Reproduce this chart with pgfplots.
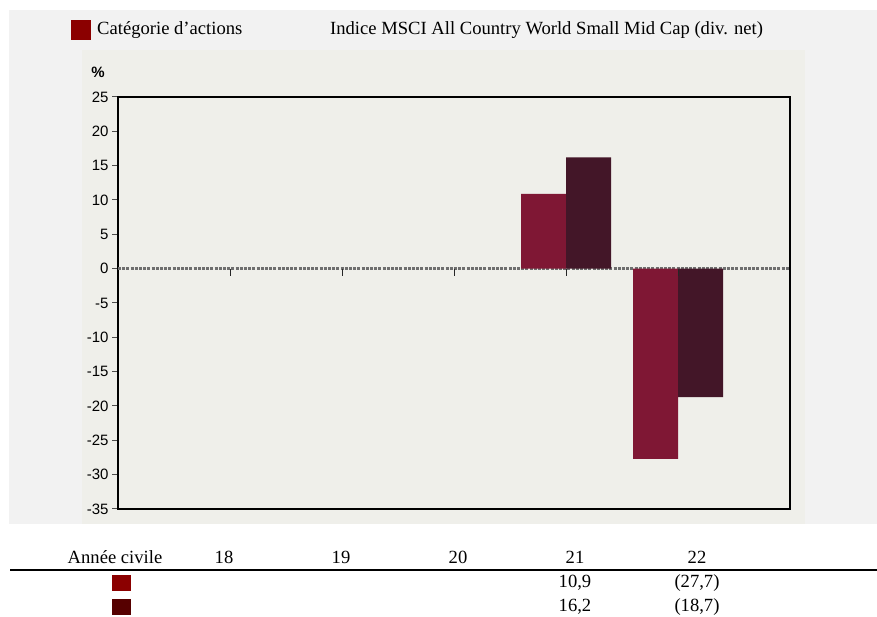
\documentclass[border=0pt]{standalone}
\usepackage{pgfplots}
\pgfplotsset{compat=1.18}
\usepackage{fontspec}
\setmainfont{Liberation Serif}
\setsansfont{Liberation Sans}

\definecolor{outerbg}{HTML}{F2F2F2}
\definecolor{innerbg}{HTML}{EFEFEA}
\definecolor{catbar}{HTML}{7F1734}
\definecolor{idxbar}{HTML}{431628}
\definecolor{keyA}{HTML}{8B0000}
\definecolor{keyB}{HTML}{560000}
\definecolor{zeroline}{HTML}{6E6E6E}

\newcommand{\serif}{\rmfamily\fontsize{18.6}{21}\selectfont}
\newcommand{\tickfont}{\sffamily\fontsize{15}{18}\selectfont}

\begin{document}
\begin{tikzpicture}[x=1pt, y=1pt]
    \useasboundingbox (0,0) rectangle (877,617);
    % panels
    \fill[outerbg] (9,93) rectangle (877,607);
    \fill[innerbg] (82,93) rectangle (805,567);

    % legend
    \fill[keyA] (71,577) rectangle (91,597);
    \node[anchor=west, inner sep=0pt, font=\serif] at (97,587) {Catégorie d’actions};
    \node[anchor=west, inner sep=0pt, font=\serif] at (330,587) {Indice MSCI All Country World Small Mid Cap (div. net)};

    % unit
    \node[font=\tickfont\bfseries, inner sep=0pt] at (98,545) {\%};

    \begin{axis}[
        at           = {(118pt,108pt)},
        anchor       = south west,
        scale only axis,
        width        = 672pt,
        height       = 412pt,
        % Axes
        xmin = 0,
        xmax = 6,
        ymin = -35,
        ymax = 25,
        xtick = \empty,
        ytick = {-35,-30,...,25},
        yticklabels = {-35,-30,-25,-20,-15,-10,-5,0,5,10,15,20,25},
        yticklabel style = {font=\tickfont},
        ytick pos         = left,
        tick align        = outside,
        major tick length = 6pt,
        ytick style       = {gray!60!black, line width=1pt},
        axis line style   = {black, line width=1.6pt},
        % Bars
        ybar      = 0pt,
        bar width = 45pt,
    ]

        % zero line
        \draw[zeroline, line width=2.4pt, dash pattern=on 3pt off 1.2pt]
            (axis cs:0,0) -- (axis cs:6,0);

        % Catégorie d'actions
        \addplot[fill=catbar, draw=none] coordinates {
            (4,  10.9)
            (5, -27.7)
        };

        % Indice MSCI ACWI SMID
        \addplot[fill=idxbar, draw=none] coordinates {
            (4,  16.2)
            (5, -18.7)
        };

        % category ticks on the zero line
        \foreach \k in {1,...,5} {
            \edef\temp{\noexpand\draw[gray!30!black, line width=1pt] (axis cs:\k,0) -- (axis cs:\k,-1);}
            \temp
        }
    \end{axis}

    % table below the chart
    \node[font=\serif, inner sep=0pt] at (115,60) {Année civile};
    \foreach \xx/\yr in {224/18, 341/19, 458/20, 575/21, 697/22}
        \node[font=\serif, inner sep=0pt] at (\xx,60) {\yr};
    \draw[black, line width=1.5pt] (10,47) -- (877,47);
    \fill[keyA] (112,26) rectangle (131,42);
    \fill[keyB] (112,2) rectangle (131,18);
    \node[font=\serif, inner sep=0pt] at (575,34) {10,9};
    \node[font=\serif, inner sep=0pt] at (697,34) {(27,7)};
    \node[font=\serif, inner sep=0pt] at (575,10) {16,2};
    \node[font=\serif, inner sep=0pt] at (697,10) {(18,7)};
\end{tikzpicture}
\end{document}
